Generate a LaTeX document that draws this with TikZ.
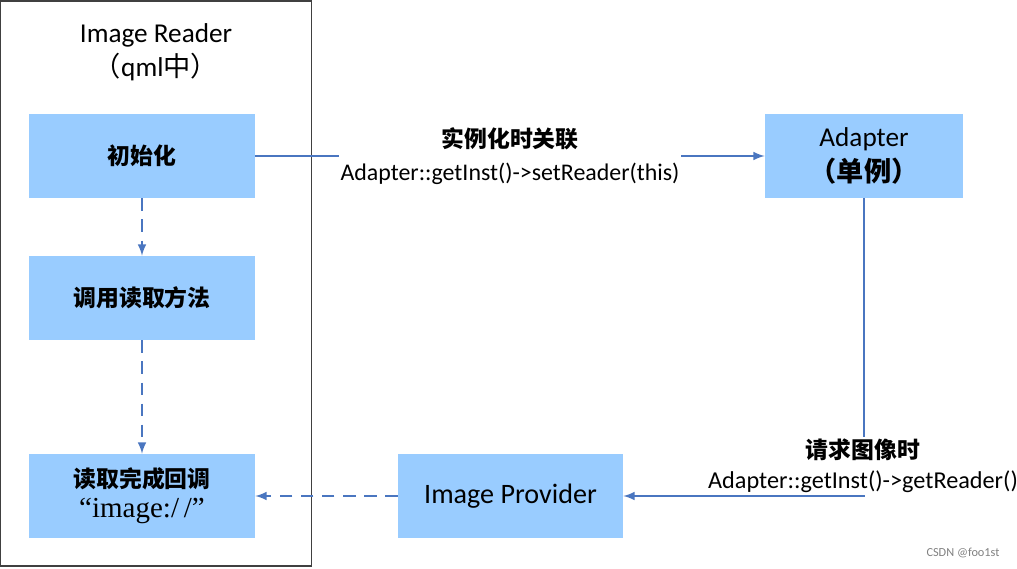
\documentclass[tikz,border=0pt]{standalone}
\usepackage{fontspec}
\setmainfont{Carlito}
\newfontfamily\cjk{Noto Sans CJK SC}
\newfontfamily\tms{Liberation Serif}
\definecolor{boxblue}{HTML}{99CCFF}
\definecolor{lineblue}{HTML}{4A76C0}
\definecolor{framegray}{HTML}{404040}

\begin{document}
\begin{tikzpicture}[x=0.02cm,y=-0.02cm,>=latex,
	blk/.style={fill=boxblue, minimum width=4.52cm, minimum height=1.68cm, align=center, inner sep=0pt},
	link/.style={draw=lineblue, line width=1.2pt},
	dlink/.style={link, dash pattern=on 7pt off 5pt}]
	\useasboundingbox (0,0) rectangle (1017,568);

	% Draw the reader frame
	\node[draw=framegray, line width=0.8pt, minimum width=6.22cm, minimum height=11.3cm] (reader) at (156,283.5) {};
	\node[align=center, font=\fontsize{15.5}{19.5}\selectfont] (title) at (156,52) {Image Reader\\{\cjk （}qml{\cjk 中）}};

	% Draw the boxes
	\node[blk, font=\cjk\bfseries\fontsize{13}{16}\selectfont] (init) at (142,156) {初始化};
	\node[blk, font=\cjk\bfseries\fontsize{13}{16}\selectfont] (call) at (142,298) {调用读取方法};
	\node[blk, font=\fontsize{13}{17}\selectfont] (done) at (142,496) {{\cjk\bfseries 读取完成回调}\\{\tms\fontsize{16.5}{17}\selectfont “image:/\,/”}};
	\node[blk, minimum width=4.5cm, font=\fontsize{16}{18}\selectfont] (provider) at (510.5,496) {Image Provider};
	\node[blk, minimum width=3.96cm, font=\fontsize{15.5}{20}\selectfont] (adapter) at (864,156) {Adapter\\{\cjk\bfseries （单例）}};

	% Draw the calls inside the reader
	\draw[dlink,->] (init) -- (call);
	\draw[dlink,->] (call) -- (done);
	\draw[dlink,->] (provider) -- (done);

	% Draw the links to the adapter
	\draw[link,->] (init) -- (adapter) node[midway, fill=white, align=center, inner sep=1pt, font=\fontsize{13.6}{19}\selectfont] (setlbl) {{\cjk\bfseries\fontsize{13}{19}\selectfont 实例化时关联}\\Adapter::getInst()->setReader(this)};
	\draw[link,->] (adapter) |- (provider);
	\node[fill=white, align=center, inner sep=1pt, font=\fontsize{13.8}{17}\selectfont] (getlbl) at (863,466) {{\cjk\bfseries\fontsize{13}{17}\selectfont 请求图像时}\\Adapter::getInst()->getReader()};

	% Draw the watermark
	\node[text=gray, font=\fontsize{7}{8}\selectfont] (mark) at (963,553) {CSDN @foo1st};
\end{tikzpicture}
\end{document}
